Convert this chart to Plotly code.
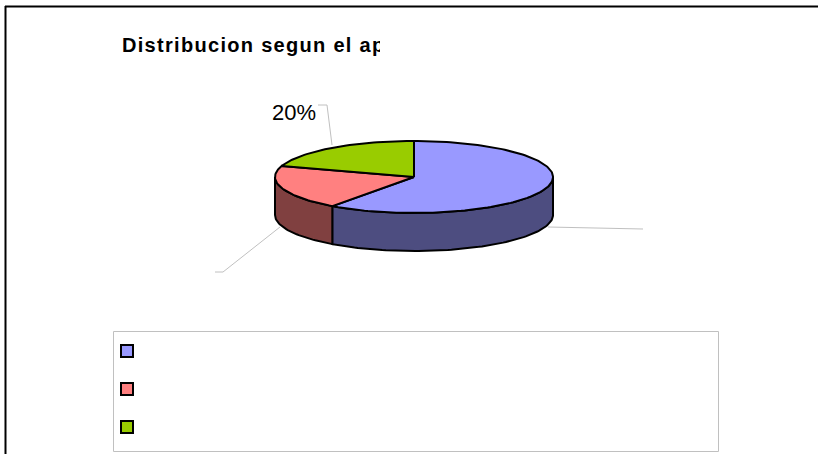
import numpy as np
import plotly.graph_objects as go

shares = [60, 20, 20]
top_colors = ["#9999ff", "#ff8080", "#99cc00"]
side_colors = ["#4d4d80", "#804040", "#99cc00"]
title_text = "Distribucion segun el ap"
shown_label = "20%"

W, H = 818, 454
CX, CY, RX, RY, DEPTH = 414, 177, 139, 36, 38
FRONT_START, FRONT_END = 90, 270


def pt(t, drop=0):
    r = np.radians(t)
    return CX + RX * np.sin(r), CY - RY * np.cos(r) + drop


def arc(a, b, drop=0):
    n = max(2, int(abs(b - a) / 1.5))
    return pt(np.linspace(a, b, n), drop)


fig = go.Figure()
edges = np.cumsum([0] + shares) / sum(shares) * 360

# side walls, only the part of each slice facing the viewer
for i, color in enumerate(side_colors):
    a, b = max(edges[i], FRONT_START), min(edges[i + 1], FRONT_END)
    if b <= a:
        continue
    x1, y1 = arc(a, b)
    x2, y2 = arc(b, a, DEPTH)
    fig.add_trace(go.Scatter(
        x=np.r_[x1, x2, x1[0]], y=np.r_[y1, y2, y1[0]], mode="lines", fill="toself",
        fillcolor=color, line=dict(color="black", width=2), hoverinfo="skip"))

# top faces
for i, color in enumerate(top_colors):
    x, y = arc(edges[i], edges[i + 1])
    fig.add_trace(go.Scatter(
        x=np.r_[CX, x, CX], y=np.r_[CY, y, CY], mode="lines", fill="toself",
        fillcolor=color, line=dict(color="black", width=2), hoverinfo="skip"))

# leader lines
leaders = [
    ([548, 643], [227, 229]),
    ([280, 223, 215], [227, 272, 272]),
    ([332, 327, 318], [105 + 40, 105, 105]),
]
for lx, ly in leaders:
    fig.add_trace(go.Scatter(x=lx, y=ly, mode="lines",
                             line=dict(color="#c0c0c0", width=1), hoverinfo="skip"))

# legend swatches
fig.add_trace(go.Scatter(
    x=[127, 127, 127], y=[351, 389, 427], mode="markers",
    marker=dict(symbol="square", size=12, color=top_colors,
                line=dict(color="black", width=2)),
    hoverinfo="skip"))

fig.update_layout(
    width=W, height=H, autosize=False, showlegend=False,
    margin=dict(l=0, r=0, t=0, b=0),
    paper_bgcolor="white", plot_bgcolor="white",
    xaxis=dict(range=[0, W], visible=False, fixedrange=True),
    yaxis=dict(range=[H, 0], visible=False, fixedrange=True),
    shapes=[
        dict(type="rect", xref="x", yref="y", x0=113.5, x1=718.5, y0=331.5, y1=451.5,
             line=dict(color="#c0c0c0", width=1), layer="below"),
        dict(type="line", xref="x", yref="y", x0=5, x1=W, y0=6.5, y1=6.5,
             line=dict(color="black", width=2)),
        dict(type="line", xref="x", yref="y", x0=5.5, x1=5.5, y0=6, y1=H,
             line=dict(color="black", width=2)),
    ],
    annotations=[
        dict(text="<b>" + title_text + "</b>", xref="x", yref="y", x=120, y=45,
             xanchor="left", yanchor="middle", showarrow=False, align="left",
             width=258, height=24,
             font=dict(family="Liberation Sans", size=20, color="black")),
        dict(text=shown_label, xref="x", yref="y", x=294, y=112,
             xanchor="center", yanchor="middle", showarrow=False,
             font=dict(family="Liberation Sans", size=22, color="black")),
    ],
)

# the page margin would shift the chart; the title is set with wide tracking
post = """
document.body.style.margin = '0';
document.body.style.overflow = 'hidden';
var t = document.querySelector('.annotation-text');
if (t) { t.style.letterSpacing = '1.3px'; }
"""
fig.write_html("out.html", config=dict(displayModeBar=False), post_script=post)
